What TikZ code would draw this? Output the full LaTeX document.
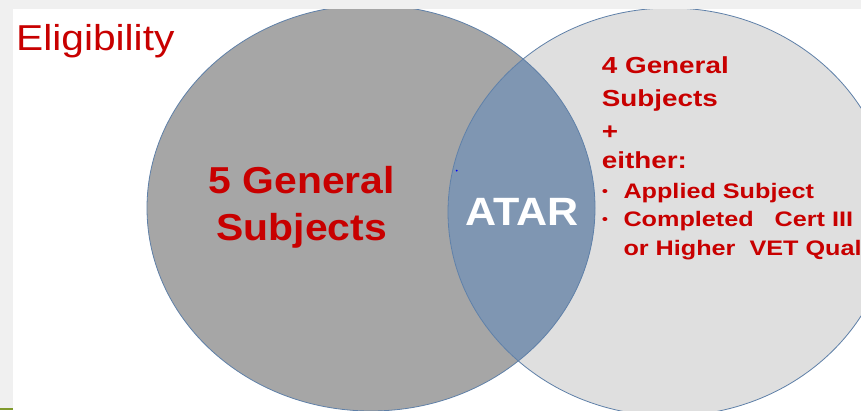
\documentclass[tikz,border=0pt]{standalone}
\usepackage{fontspec}
\setmainfont{Liberation Sans}
\newfontfamily\eligfont[FakeStretch=1.13]{Liberation Sans}
\newfontfamily\bigfont[FakeStretch=1.09]{Liberation Sans}
\newfontfamily\smallfont[FakeStretch=1.2]{Liberation Sans}
\definecolor{stripgray}{HTML}{F0F0F0}
\definecolor{leftgray}{HTML}{A6A6A6}
\definecolor{rightgray}{HTML}{DFDFDF}
\definecolor{lensblue}{HTML}{7F96B2}
\definecolor{edgeblue}{HTML}{5F80A8}
\definecolor{redtxt}{HTML}{C80000}
\definecolor{olivebar}{HTML}{809A2C}
\tikzset{
  edge/.style={draw=edgeblue, line width=0.8pt},
  titletext/.style={anchor=base west, inner sep=0pt, text=redtxt, font=\eligfont\fontsize{36}{40}\selectfont},
  bigtext/.style={anchor=base, inner sep=0pt, text=redtxt, font=\bigfont\bfseries\fontsize{37.5}{45}\selectfont},
  atartext/.style={anchor=base, inner sep=0pt, text=white, font=\bigfont\bfseries\fontsize{39.5}{46}\selectfont},
  headtext/.style={anchor=base west, inner sep=0pt, text=redtxt, font=\smallfont\bfseries\fontsize{23.2}{28}\selectfont},
  itemtext/.style={anchor=base west, inner sep=0pt, text=redtxt, font=\smallfont\bfseries\fontsize{21}{26}\selectfont},
  bullettext/.style={anchor=center, inner sep=0pt, text=redtxt, font=\smallfont\fontsize{15}{18}\selectfont}
}
\begin{document}
\begin{tikzpicture}[x=1pt,y=-1pt]
\useasboundingbox (0,0) rectangle (861,410);
\clip (0,0) rectangle (861,410);
% background
\fill[stripgray] (0,0) rectangle (861,410);
\fill[white] (13,9) rectangle (861,410);
\fill[olivebar] (0,407.5) rectangle (13,410);
% circles
\fill[leftgray] (371,208) ellipse [x radius=224pt, y radius=203pt];
\fill[rightgray] (670,212) ellipse [x radius=222pt, y radius=204pt];
\begin{scope}
  \clip (371,208) ellipse [x radius=224pt, y radius=203pt];
  \fill[lensblue] (670,212) ellipse [x radius=222pt, y radius=204pt];
\end{scope}
\draw[edge] (371,208) ellipse [x radius=224pt, y radius=203pt];
\draw[edge] (670,212) ellipse [x radius=222pt, y radius=204pt];
\fill[blue] (456.7,170.7) circle [radius=1pt];
% top strip over everything
\fill[stripgray] (0,0) rectangle (861,9);
% texts
\node[titletext] (elig) at (16,50.7) {Eligibility};
\node[bigtext] (five1) at (301.7,193.3) {5 General};
\node[bigtext] (five2) at (301.7,240) {Subjects};
\node[atartext] (atar) at (521.7,225) {ATAR};
\node[headtext] (four1) at (601.7,73.3) {4 General};
\node[headtext] (four2) at (601.7,106.7) {Subjects};
\node[headtext] (plus) at (601.7,139) {+};
\node[headtext] (either) at (601.7,168.3) {either:};
\node[bullettext] (b1) at (605,192.7) {•};
\node[itemtext] (i1) at (623.3,198.3) {Applied Subject};
\node[bullettext] (b2) at (605,220.7) {•};
\node[itemtext] (i2) at (623.3,226.7) {Completed\ \ \ Cert III};
\node[itemtext] (i3) at (623.3,255) {or Higher\ \ VET Qual};
\end{tikzpicture}
\end{document}
